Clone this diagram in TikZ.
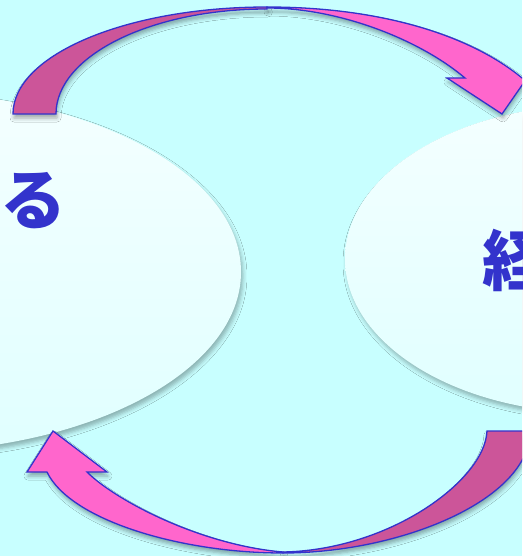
\documentclass[tikz,border=0pt]{standalone}
\usepackage{fontspec}
\newfontfamily\jpfont{Noto Sans CJK JP}
\usetikzlibrary{shapes.geometric,shadows.blur}
\definecolor{bg}{HTML}{C8FFFF}
\definecolor{ellA}{HTML}{F4FFFF}
\definecolor{ellB}{HTML}{E0FFFF}
\definecolor{pinkD}{HTML}{CC5599}
\definecolor{pinkL}{HTML}{FF66CC}
\definecolor{edgeblue}{HTML}{3333CC}
\tikzset{
  bubble/.style={shape=ellipse, draw=none, inner sep=0pt, top color=ellA, bottom color=ellB,
    blur shadow={shadow xshift=2pt, shadow yshift=-4pt, shadow blur radius=4pt, shadow opacity=30}},
  label/.style={font=\jpfont\bfseries\fontsize{66}{66}\selectfont, text=edgeblue, inner sep=0pt},
  arrshadow/.style={blur shadow={shadow xshift=1pt, shadow yshift=-4pt, shadow blur radius=4pt, shadow opacity=35}},
  face/.style={draw=edgeblue, line width=1.3pt, line join=miter},
  topdark/.style={insert path={(13,114) .. controls (13,54.9) and (126.7,7) .. (267,7)
      -- (267,9) .. controls (150.5,9) and (56,56) .. (56,114) -- cycle}},
  toplight/.style={insert path={(267,7) .. controls (380,7) and (470,35) .. (522,78)
      -- (527,78) -- (502,114) -- (447,78) -- (465,78)
      .. controls (420,40) and (340,8) .. (267,8) -- cycle}},
  botdark/.style={insert path={(487,431) -- (530,431) .. controls (530,500) and (400,553) .. (283,553)
      -- (283,552) .. controls (390,550) and (485,480) .. (487,431) -- cycle}},
  botlight/.style={insert path={(283,553) .. controls (180,553) and (70,520) .. (47,472)
      -- (27,472) -- (53,431) -- (107,472) -- (87,472)
      .. controls (115,500) and (200,545) .. (283,552) -- cycle}},
}
\begin{document}
\begin{tikzpicture}[x=1pt, y=-1pt]
\useasboundingbox (0,0) rectangle (522,556);
\clip (0,0) rectangle (522,556);
\fill[bg] (0,0) rectangle (522,556);
% ellipses
\node[bubble, minimum width=682pt, minimum height=360pt] (leftell) at (-100,272) {};
\node[bubble, minimum width=500pt, minimum height=308pt] (rightell) at (595,259) {};
% texts
\node[label, anchor=east] (lefttext) at (67,200) {する};
\node[label, anchor=west] (righttext) at (482,260) {経};
% arrow shadows
\path[arrshadow, topdark];
\path[arrshadow, toplight];
\path[arrshadow, botdark];
\path[arrshadow, botlight];
% arrow faces
\filldraw[face, fill=pinkD, topdark];
\filldraw[face, fill=pinkL, toplight];
\filldraw[face, fill=pinkD, botdark];
\filldraw[face, fill=pinkL, botlight];
\end{tikzpicture}
\end{document}
